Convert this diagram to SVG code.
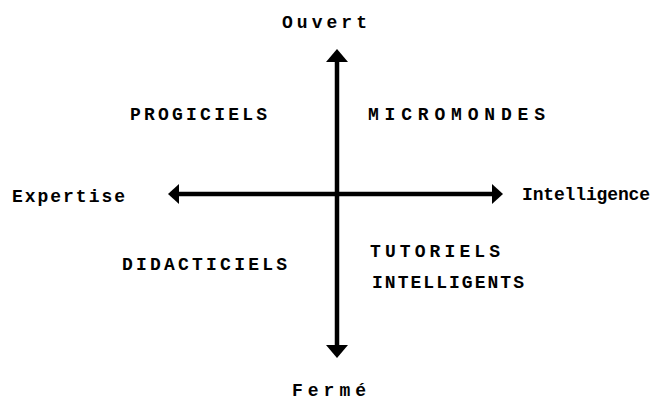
<svg xmlns="http://www.w3.org/2000/svg" width="656" height="401" viewBox="0 0 656 401">
<style>
text{font-family:"Liberation Mono","DejaVu Sans Mono",monospace;font-weight:bold;font-size:18px;fill:#000}
.ax{stroke:#000;stroke-width:4.5;fill:none}
.hd{fill:#000}
</style>
<rect width="656" height="401" fill="#fff"/>
<g id="connectors">
<line class="ax" x1="337" y1="58" x2="337" y2="349"/>
<line class="ax" x1="177" y1="194" x2="494" y2="194"/>
<polygon class="hd" points="337,49 348,62 326,62"/>
<polygon class="hd" points="337,358 348,345 326,345"/>
<polygon class="hd" points="168,194 179,184 179,204"/>
<polygon class="hd" points="503,194 492,184 492,204"/>
</g>
<g id="ouvert"><text x="282" y="28" textLength="85">Ouvert</text></g>
<g id="ferme"><text x="292" y="396" textLength="74">Fermé</text></g>
<g id="expertise"><text x="12" y="202" textLength="113">Expertise</text></g>
<g id="intelligence"><text x="522" y="200" textLength="128">Intelligence</text></g>
<g id="progiciels"><text x="130" y="120" textLength="137">PROGICIELS</text></g>
<g id="micromondes"><text x="368" y="120" textLength="177">MICROMONDES</text></g>
<g id="didacticiels"><text x="122" y="270" textLength="165">DIDACTICIELS</text></g>
<g id="tutoriels"><text x="370" y="257" textLength="130">TUTORIELS</text><text x="372" y="288" textLength="152">INTELLIGENTS</text></g>
</svg>
